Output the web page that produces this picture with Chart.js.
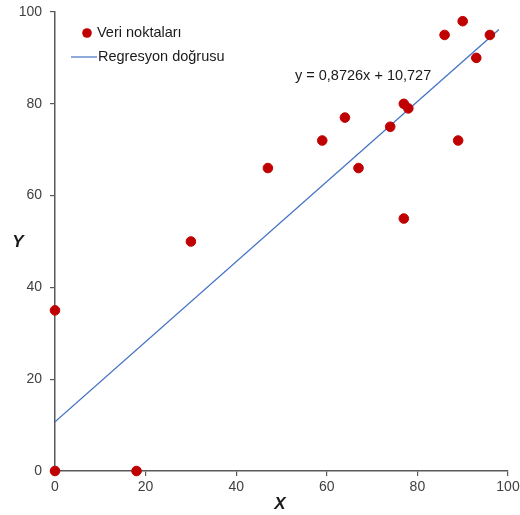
<!DOCTYPE html>
<html>
<head>
<meta charset="utf-8">
<script src="https://cdn.jsdelivr.net/npm/chart.js@4"></script>
<style>
  html, body { margin: 0; padding: 0; background: #fff; }
  #wrap { width: 520px; height: 515px; }
</style>
</head>
<body>
<div id="wrap"><canvas id="myChart" width="520" height="515"></canvas></div>
<script>
// observed points
const pointX = [0, 0, 18, 30, 47, 59, 64, 67, 74, 77, 78, 77, 86, 90, 93, 89, 96];
const pointY = [0, 35, 0, 50, 66, 72, 77, 66, 75, 80, 79, 55, 95, 98, 90, 72, 95];
// regression line end points (y = 0,8726x + 10,727)
const lineX = [0, 98];
const lineY = [10.7, 96.2];
const xTicks = [0, 20, 40, 60, 80, 100];
const yTicks = [0, 20, 40, 60, 80, 100];

const seriesNames = ['Veri noktaları', 'Regresyon doğrusu'];
const equationText = 'y = 0,8726x + 10,727';

const axisColor = '#595959';
const textColor = '#404040';

const overlay = {
    id: 'overlay',
    afterDraw(chart) {
        const c = chart.ctx;
        c.save();
        // legend
        c.fillStyle = '#C00000';
        c.beginPath();
        c.arc(87, 33, 4.8, 0, Math.PI * 2);
        c.fill();
        c.strokeStyle = '#4472C4';
        c.lineWidth = 1.2;
        c.beginPath();
        c.moveTo(71, 57);
        c.lineTo(97, 57);
        c.stroke();
        c.fillStyle = '#1a1a1a';
        c.font = '14.5px "Liberation Sans", Arial, sans-serif';
        c.textBaseline = 'middle';
        c.textAlign = 'left';
        c.fillText(seriesNames[0], 97, 33);
        c.fillText(seriesNames[1], 98, 57);
        // equation
        c.fillText(equationText, 295, 76);
        // axis titles
        c.font = 'italic bold 17px "Liberation Sans", Arial, sans-serif';
        c.textAlign = 'center';
        c.fillText('X', 280, 504);
        c.fillText('Y', 18, 242);
        c.restore();
    }
};

const ctx = document.getElementById('myChart').getContext('2d');
const myChart = new Chart(ctx, {
    type: 'scatter',
    data: {
        datasets: [{
            label: seriesNames[0],
            data: pointX.map((x, i) => ({ x: x, y: pointY[i] })),
            backgroundColor: '#C00000',
            borderColor: '#C00000',
            pointRadius: 4.8,
            pointHoverRadius: 4.8,
            clip: false,
            order: 1
        }, {
            label: seriesNames[1],
            type: 'line',
            data: lineX.map((x, i) => ({ x: x, y: lineY[i] })),
            borderColor: '#4472C4',
            borderWidth: 1.3,
            pointRadius: 0,
            fill: false,
            order: 2
        }]
    },
    options: {
        responsive: false,
        animation: false,
        layout: { padding: { top: 12, right: 12, left: 0, bottom: 0 } },
        plugins: {
            legend: { display: false },
            tooltip: { enabled: false }
        },
        scales: {
            x: {
                type: 'linear',
                min: 0,
                max: 100,
                afterBuildTicks: scale => { scale.ticks = xTicks.map(v => ({ value: v })); },
                afterFit: scale => {
                    scale.height = 44;
                    scale.paddingLeft = 0;
                    scale.paddingRight = 0;
                },
                border: { color: axisColor, width: 1.5 },
                grid: { drawOnChartArea: false, drawTicks: true, tickLength: 5, color: axisColor, lineWidth: 1.2 },
                ticks: { color: textColor, font: { family: '"Liberation Sans", Arial, sans-serif', size: 14 }, padding: 3, maxRotation: 0 }
            },
            y: {
                type: 'linear',
                min: 0,
                max: 100,
                afterBuildTicks: scale => { scale.ticks = yTicks.map(v => ({ value: v })); },
                afterFit: scale => {
                    scale.width = 55;
                    scale.paddingTop = 0;
                    scale.paddingBottom = 0;
                },
                border: { color: axisColor, width: 1.5 },
                grid: { drawOnChartArea: false, drawTicks: true, tickLength: 5, color: axisColor, lineWidth: 1.2 },
                ticks: { color: textColor, font: { family: '"Liberation Sans", Arial, sans-serif', size: 14 }, padding: 8 }
            }
        }
    },
    plugins: [overlay]
});
</script>
</body>
</html>
